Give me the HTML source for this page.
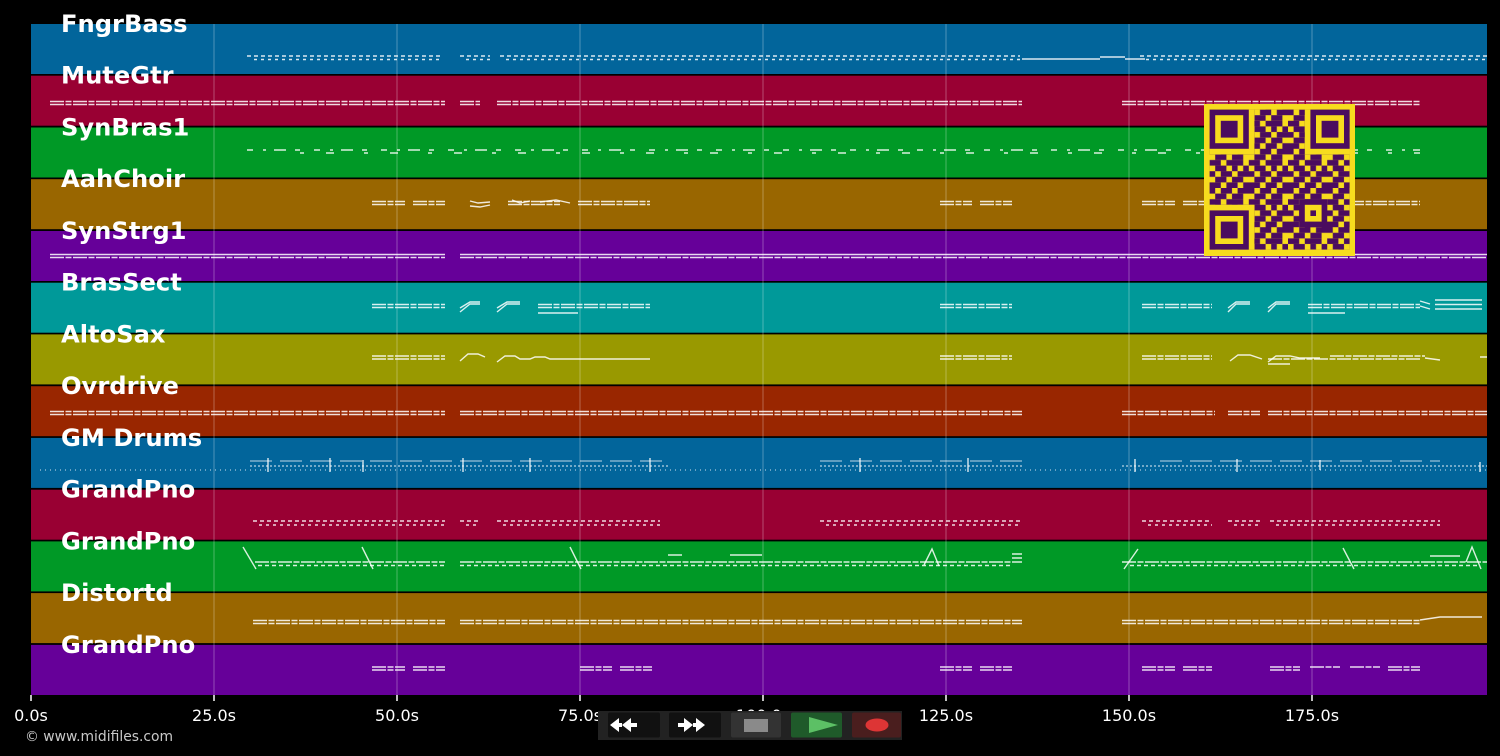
<!DOCTYPE html>
<html>
<head>
<meta charset="utf-8">
<style>
html,body{margin:0;padding:0;background:#000;}
body{width:1500px;height:756px;overflow:hidden;}
svg{display:block;}
.lbl{font-family:"DejaVu Sans","Liberation Sans",sans-serif;font-weight:bold;font-size:24.2px;fill:#fff;}
.tk{font-family:"DejaVu Sans","Liberation Sans",sans-serif;font-size:16px;fill:#fff;text-anchor:middle;}
.cp{font-family:"DejaVu Sans","Liberation Sans",sans-serif;font-size:13.9px;fill:#c8c8c8;}
.n{fill:none;stroke:rgba(255,255,255,0.85);stroke-width:1.4;}
.z1{stroke-dasharray:4 3;}
.z2{stroke-dasharray:3 4;stroke-dashoffset:3;}
.dd{stroke-dasharray:14 1.5 6 1.5;}
.sp{stroke-dasharray:6 10 3 8 12 9 5 14;}
.sp2{stroke-dasharray:4 22 8 30;}
.dt{stroke-dasharray:1 4;stroke:rgba(255,255,255,0.55);}
.dt2{stroke-dasharray:2 2;stroke:rgba(255,255,255,0.6);}
.ln{stroke-dasharray:22 8;stroke:rgba(255,255,255,0.5);}
</style>
</head>
<body>
<svg width="1500" height="756" viewBox="0 0 1500 756" xmlns="http://www.w3.org/2000/svg">
<rect x="0" y="0" width="1500" height="756" fill="#000"/>
<!-- bands -->
<g>
<rect x="31" y="24" width="1456" height="50" fill="#02659b"/>
<rect x="31" y="75.7" width="1456" height="50" fill="#990033"/>
<rect x="31" y="127.5" width="1456" height="50" fill="#009926"/>
<rect x="31" y="179.2" width="1456" height="50" fill="#996600"/>
<rect x="31" y="231" width="1456" height="50" fill="#660099"/>
<rect x="31" y="282.7" width="1456" height="50" fill="#009999"/>
<rect x="31" y="334.4" width="1456" height="50" fill="#999900"/>
<rect x="31" y="386.2" width="1456" height="50" fill="#992600"/>
<rect x="31" y="437.9" width="1456" height="50" fill="#02659b"/>
<rect x="31" y="489.7" width="1456" height="50" fill="#990033"/>
<rect x="31" y="541.4" width="1456" height="50" fill="#009926"/>
<rect x="31" y="593.1" width="1456" height="50" fill="#996600"/>
<rect x="31" y="644.9" width="1456" height="50.1" fill="#660099"/>
</g>
<!-- grid lines -->
<g stroke="rgba(255,255,255,0.3)" stroke-width="1">
<line x1="214" y1="24" x2="214" y2="695"/>
<line x1="397" y1="24" x2="397" y2="695"/>
<line x1="580" y1="24" x2="580" y2="695"/>
<line x1="763" y1="24" x2="763" y2="695"/>
<line x1="946" y1="24" x2="946" y2="695"/>
<line x1="1129" y1="24" x2="1129" y2="695"/>
<line x1="1312" y1="24" x2="1312" y2="695"/>
</g>

<!-- notes -->
<g class="n">
<!-- FngrBass -->
<path class="z1" d="M247 56 H440 M460 56 H490 M500 56 H1020 M1140 56 H1487"/>
<path class="z2" d="M250 59.5 H440 M462 59.5 H490 M502 59.5 H1020 M1142 59.5 H1487"/>
<path d="M1022 59 H1100 M1100 57 H1125 M1125 59 H1145"/>
<!-- MuteGtr -->
<path class="dd" d="M50 101.5 H445 M460 101.5 H480 M497 101.5 H1022 M1122 101.5 H1420"/>
<path class="dd" d="M50 104.5 H445 M460 104.5 H480 M497 104.5 H1022 M1122 104.5 H1420"/>
<!-- SynBras1 -->
<path class="sp" d="M247 150 H1420"/>
<path class="sp2" d="M300 153 H1420"/>
<!-- AahChoir -->
<path class="dd" d="M372 201.5 H405 M413 201.5 H445 M508 201.5 H560 M578 201.5 H650 M940 201.5 H972 M980 201.5 H1012 M1142 201.5 H1175 M1183 201.5 H1212 M1228 201.5 H1262 M1270 201.5 H1300 M1310 201.5 H1340 M1350 201.5 H1420"/>
<path class="dd" d="M372 204.5 H405 M413 204.5 H445 M508 204.5 H560 M578 204.5 H650 M940 204.5 H972 M980 204.5 H1012 M1142 204.5 H1175 M1183 204.5 H1212 M1270 204.5 H1300 M1350 204.5 H1420"/>
<path d="M470 201 L478 203 L490 202 M470 206 L480 207 L490 205 M512 200 L520 203 L530 201 M540 202 L556 200 L570 203"/>
<!-- SynStrg1 -->
<path d="M50 254.5 H445 M460 254.5 H1487"/>
<path class="dd" d="M50 257.5 H445 M460 257.5 H1487"/>
<!-- BrasSect -->
<path class="dd" d="M372 304.5 H445 M538 304.5 H650 M940 304.5 H1012 M1142 304.5 H1212 M1308 304.5 H1420"/>
<path class="dd" d="M372 307.5 H445 M538 307.5 H650 M940 307.5 H1012 M1142 307.5 H1212 M1308 307.5 H1420"/>
<path d="M538 313 H578 M1308 313 H1345 M460 312 L470 304 H480 M460 308 L470 302 H480 M497 312 L507 304 H520 M497 308 L507 302 H520 M1228 312 L1236 304 H1250 M1228 308 L1236 302 H1250 M1268 312 L1276 304 H1290 M1268 308 L1276 302 H1290 M1420 301 L1430 304 M1420 306 L1430 309 M1435 300 H1482 M1435 304.5 H1482 M1435 309 H1482"/>
<!-- AltoSax -->
<path class="dd" d="M372 356 H445 M940 356 H1012 M1142 356 H1212 M1330 356 H1425"/>
<path class="dd" d="M372 359 H445 M940 359 H1012 M1142 359 H1212 M1268 359 H1420"/>
<path d="M460 361 L468 354 H478 L485 357 M497 362 L505 356 H515 L520 359 H530 L535 357 H545 L550 359 H650 M1230 361 L1238 355 H1250 L1262 359 M1268 362 L1276 356 H1290 L1300 358 H1320 M1268 364 H1290 M1425 358 L1440 360 M1480 357 H1487"/>
<!-- Ovrdrive -->
<path class="dd" d="M50 411.5 H445 M460 411.5 H1022 M1122 411.5 H1215 M1228 411.5 H1260 M1268 411.5 H1487"/>
<path class="dd" d="M50 414.5 H445 M460 414.5 H1022 M1122 414.5 H1215 M1228 414.5 H1260 M1268 414.5 H1487"/>
<!-- GM Drums -->
<path class="dt" d="M40 470 H1487"/>
<path class="dt2" d="M250 466 H670 M820 466 H1022 M1122 466 H1487"/>
<path class="ln" d="M250 461 H670 M820 461 H1022 M1160 461 H1440"/>
<path d="M268 458 V472 M330 458 V472 M363 460 V472 M463 458 V472 M530 458 V472 M650 458 V472 M860 458 V472 M968 458 V472 M1135 459 V472 M1237 459 V472 M1320 460 V470 M1480 462 V472"/>
<!-- GrandPno red -->
<path class="z1" d="M253 521 H445 M460 521 H480 M497 521 H660 M820 521 H1022 M1142 521 H1212 M1228 521 H1262 M1270 521 H1440"/>
<path class="z2" d="M255 525 H445 M462 525 H480 M499 525 H660 M822 525 H1022 M1144 525 H1212 M1230 525 H1262 M1272 525 H1440"/>
<!-- GrandPno green -->
<path class="dd" d="M255 562 H445 M460 562 H1022 M1122 562 H1487"/>
<path class="z1" d="M258 565.5 H445 M460 565.5 H1010 M1130 565.5 H1480"/>
<path d="M243 547 L256 569 M362 547 L373 569 M570 547 L581 569 M924 565 L932 549 L939 566 M1138 549 L1124 569 M1343 548 L1354 569 M1466 562 L1472 547 L1481 569 M668 555 H682 M730 555 H762 M1012 554 H1022 M1012 558 H1022 M1430 556 H1460"/>
<!-- Distortd -->
<path class="dd" d="M253 620.5 H445 M460 620.5 H1022 M1122 620.5 H1420"/>
<path class="dd" d="M253 623.5 H445 M460 623.5 H1022 M1122 623.5 H1420"/>
<path d="M1420 620 L1440 617 H1482"/>
<!-- GrandPno purple -->
<path class="dd" d="M372 667 H405 M413 667 H445 M580 667 H612 M620 667 H652 M940 667 H972 M980 667 H1012 M1142 667 H1175 M1183 667 H1212 M1270 667 H1300 M1310 667 H1340 M1350 667 H1380 M1388 667 H1420"/>
<path class="dd" d="M372 670 H405 M413 670 H445 M580 670 H612 M620 670 H652 M940 670 H972 M980 670 H1012 M1142 670 H1175 M1183 670 H1212 M1270 670 H1300 M1388 670 H1420"/>
</g>

<!-- QR code -->
<defs>
<pattern id="qrp" patternUnits="userSpaceOnUse" x="1209.6" y="109.6" width="39.2" height="39.2" viewBox="0 0 7 7">
<g fill="#4b0c5f">
<rect x="0" y="0" width="1" height="1"/><rect x="2" y="0" width="2" height="1"/><rect x="5" y="0" width="2" height="1"/>
<rect x="1" y="1" width="2" height="1"/><rect x="4" y="1" width="2" height="1"/>
<rect x="0" y="2" width="2" height="1"/><rect x="3" y="2" width="3" height="1"/>
<rect x="1" y="3" width="2" height="1"/><rect x="4" y="3" width="1" height="1"/><rect x="6" y="3" width="1" height="1"/>
<rect x="0" y="4" width="1" height="1"/><rect x="2" y="4" width="2" height="1"/><rect x="5" y="4" width="2" height="1"/>
<rect x="1" y="5" width="2" height="1"/><rect x="4" y="5" width="2" height="1"/>
<rect x="0" y="6" width="2" height="1"/><rect x="3" y="6" width="2" height="1"/><rect x="6" y="6" width="1" height="1"/>
</g>
</pattern>
</defs>
<rect x="1204" y="104" width="151" height="152" fill="#f7dc1e"/>
<rect x="1209.6" y="109.6" width="140" height="140" fill="url(#qrp)"/>
<!-- finders -->
<g>
<rect x="1209.6" y="109.6" width="44.8" height="44.8" fill="#f7dc1e"/>
<rect x="1209.6" y="109.6" width="39.2" height="39.2" fill="#4b0c5f"/>
<rect x="1215.2" y="115.2" width="28" height="28" fill="#f7dc1e"/>
<rect x="1220.8" y="120.8" width="16.8" height="16.8" fill="#4b0c5f"/>

<rect x="1304.8" y="109.6" width="44.8" height="44.8" fill="#f7dc1e"/>
<rect x="1310.4" y="109.6" width="39.2" height="39.2" fill="#4b0c5f"/>
<rect x="1316" y="115.2" width="28" height="28" fill="#f7dc1e"/>
<rect x="1321.6" y="120.8" width="16.8" height="16.8" fill="#4b0c5f"/>

<rect x="1209.6" y="204.8" width="44.8" height="44.8" fill="#f7dc1e"/>
<rect x="1209.6" y="210.4" width="39.2" height="39.2" fill="#4b0c5f"/>
<rect x="1215.2" y="216" width="28" height="28" fill="#f7dc1e"/>
<rect x="1220.8" y="221.6" width="16.8" height="16.8" fill="#4b0c5f"/>

<rect x="1299.2" y="199.2" width="28" height="28" fill="#4b0c5f"/>
<rect x="1304.8" y="204.8" width="16.8" height="16.8" fill="#f7dc1e"/>
<rect x="1310.4" y="210.4" width="5.6" height="5.6" fill="#4b0c5f"/>
</g>

<!-- labels -->
<g class="lbl">
<text x="61" y="32">FngrBass</text>
<text x="61" y="83.7">MuteGtr</text>
<text x="61" y="135.5">SynBras1</text>
<text x="61" y="187.2">AahChoir</text>
<text x="61" y="239">SynStrg1</text>
<text x="61" y="290.7">BrasSect</text>
<text x="61" y="342.4">AltoSax</text>
<text x="61" y="394.2">Ovrdrive</text>
<text x="61" y="445.9">GM Drums</text>
<text x="61" y="497.7">GrandPno</text>
<text x="61" y="549.4">GrandPno</text>
<text x="61" y="601.1">Distortd</text>
<text x="61" y="652.9">GrandPno</text>
</g>

<!-- ticks -->
<g stroke="#fff" stroke-width="1.5">
<line x1="31" y1="695" x2="31" y2="701"/>
<line x1="214" y1="695" x2="214" y2="701"/>
<line x1="397" y1="695" x2="397" y2="701"/>
<line x1="580" y1="695" x2="580" y2="701"/>
<line x1="763" y1="695" x2="763" y2="701"/>
<line x1="946" y1="695" x2="946" y2="701"/>
<line x1="1129" y1="695" x2="1129" y2="701"/>
<line x1="1312" y1="695" x2="1312" y2="701"/>
</g>
<g class="tk">
<text x="31" y="721">0.0s</text>
<text x="214" y="721">25.0s</text>
<text x="397" y="721">50.0s</text>
<text x="580" y="721">75.0s</text>
<text x="763" y="721">100.0s</text>
<text x="946" y="721">125.0s</text>
<text x="1129" y="721">150.0s</text>
<text x="1312" y="721">175.0s</text>
</g>
<text class="cp" x="25" y="741">© www.midifiles.com</text>

<!-- controls -->
<g>
<rect x="598" y="711" width="304" height="29" fill="#222"/>
<rect x="608" y="712.5" width="52" height="25" rx="2" fill="#111"/>
<rect x="669" y="712.5" width="52" height="25" rx="2" fill="#111"/>
<rect x="731" y="712.5" width="50" height="25" rx="2" fill="#333"/>
<rect x="791" y="712.5" width="51" height="25" rx="2" fill="#1f5a2a"/>
<rect x="852" y="712.5" width="49" height="25" rx="2" fill="#4a1e1e"/>
<g fill="#fff">
<polygon points="610,725 619,718 619,723 622,723 622,727 619,727 619,732"/>
<polygon points="622,725 631,718 631,723 637,723 637,727 631,727 631,732"/>
<polygon points="705,725 696,718 696,723 693,723 693,727 696,727 696,732"/>
<polygon points="693,725 684,718 684,723 678,723 678,727 684,727 684,732"/>
</g>
<rect x="744" y="719" width="24" height="13" fill="#8a8a8a"/>
<polygon points="809,717 838,725 809,733" fill="#5cc065"/>
<ellipse cx="877" cy="725" rx="11.5" ry="6.5" fill="#dd3535"/>
</g>
</svg>
</body>
</html>
